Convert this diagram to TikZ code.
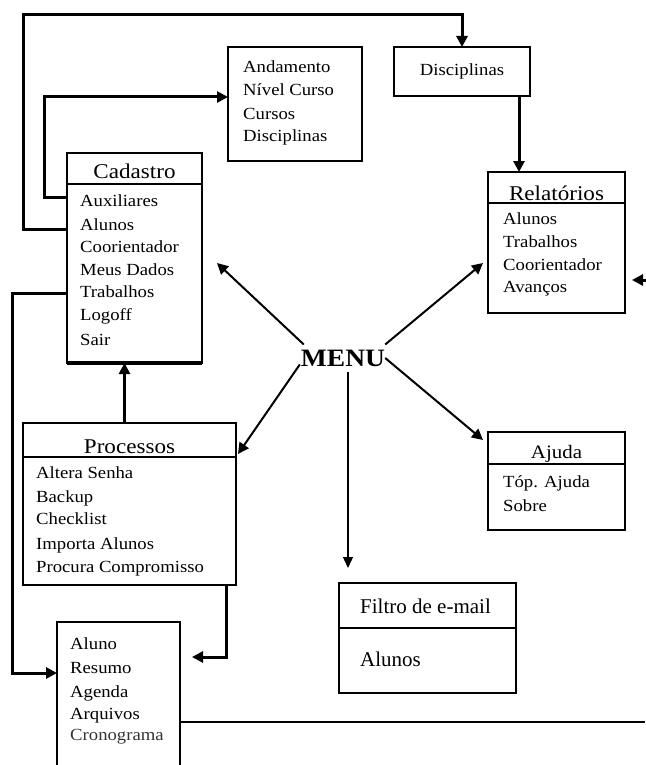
\documentclass[tikz,border=0pt]{standalone}
\usepackage{fontspec}
\setmainfont[FakeStretch=1.1]{Liberation Serif}
\newfontfamily\tnr{Liberation Serif}
\usetikzlibrary{arrows.meta,calc}
\begin{document}
\begin{tikzpicture}[x=1pt,y=-1pt,
  box/.style={draw,line width=2pt,rectangle,inner sep=0pt,outer sep=0pt,anchor=north west},
  item/.style={anchor=base west,inner sep=0pt,font=\fontsize{17}{17}\selectfont},
  ttl/.style={anchor=base,inner sep=0pt,font=\fontsize{21}{21}\selectfont},
  conn/.style={line width=3pt,-{Triangle[length=11pt,width=11pt]}},
  marr/.style={line width=2pt,-{Triangle[length=11pt,width=11pt]}},
  thinarr/.style={line width=1.3pt,-{Triangle[length=11pt,width=10pt]}},
  hdr/.style={line width=2pt}
]
\useasboundingbox (0,0) rectangle (645,765);

% boxes
\node[box,minimum width=134pt,minimum height=114pt] (andam) at (228,47) {};
\node[box,minimum width=136pt,minimum height=49pt] (disc) at (394,47) {};
\node[box,minimum width=137pt,minimum height=141pt] (rel) at (488,172) {};
\node[box,minimum width=135pt,minimum height=210pt] (cad) at (67,153) {};
\node[box,minimum width=213pt,minimum height=162pt] (proc) at (23,423) {};
\node[box,minimum width=137pt,minimum height=98pt] (ajuda) at (488,432) {};
\node[box,line width=1.2pt,minimum width=177pt,minimum height=110pt] (filtro) at (339,583) {};
\node[box,draw=none,minimum width=123pt,minimum height=143pt] (aluno) at (57,622) {};
\draw[line width=1.5pt] (aluno.south west) -- (aluno.north west) -- (aluno.north east) -- (aluno.south east);

% header lines
\draw[hdr] ($(cad.north west)+(0,31)$) -- ($(cad.north east)+(0,31)$);
\draw[line width=4pt] (cad.south west) -- (cad.south east);
\draw[hdr] ($(rel.north west)+(0,31)$) -- ($(rel.north east)+(0,31)$);
\draw[hdr] ($(proc.north west)+(0,34)$) -- ($(proc.north east)+(0,34)$);
\draw[hdr] ($(ajuda.north west)+(0,32)$) -- ($(ajuda.north east)+(0,32)$);
\draw[line width=1.2pt] ($(filtro.north west)+(0,45)$) -- ($(filtro.north east)+(0,45)$);

% texts
\node[item] at (243,73) {Andamento};
\node[item] at (243,96) {Nível Curso};
\node[item] at (243,120) {Cursos};
\node[item] at (243,142) {Disciplinas};

\node[item,anchor=base] at (462,76) {Disciplinas};

\node[ttl] at (556.5,200) {Relatórios};
\node[item] at (503,224) {Alunos};
\node[item] at (503,247) {Trabalhos};
\node[item] at (503,270) {Coorientador};
\node[item] at (503,292) {Avanços};

\node[ttl] at (134.5,178) {Cadastro};
\node[item] at (80,206) {Auxiliares};
\node[item] at (80,230) {Alunos};
\node[item] at (80,252) {Coorientador};
\node[item] at (80,275) {Meus Dados};
\node[item] at (80,297) {Trabalhos};
\node[item] at (80,320) {Logoff};
\node[item] at (80,345) {Sair};

\node[ttl] at (129.5,453) {Processos};
\node[item] at (36,478) {Altera Senha};
\node[item] at (36,502) {Backup};
\node[item] at (36,524) {Checklist};
\node[item] at (36,549) {Importa Alunos};
\node[item] at (36,572) {Procura Compromisso};

\node[ttl,font=\fontsize{19}{19}\selectfont] at (556.5,458) {\underline{Ajuda}};
\node[item] at (503,487) {Tóp. Ajuda};
\node[item] at (503,511) {Sobre};

\node[item] at (70,649) {Aluno};
\node[item] at (70,673) {Resumo};
\node[item] at (70,697) {Agenda};
\node[item] at (70,719) {Arquivos};
\node[item,text=black!80] at (70,740) {Cronograma};

\node[anchor=base west,inner sep=0pt,font=\tnr\fontsize{21}{21}\selectfont] at (360,613) {Filtro de e-mail};
\node[anchor=base west,inner sep=0pt,font=\tnr\fontsize{21}{21}\selectfont] at (360,666) {Alunos};

\node[inner sep=2pt,font=\fontsize{25}{25}\selectfont\bfseries] (menu) at (343,358) {MENU};

% coordinates
\coordinate (tl) at (23,15);
\coordinate (c2) at (44,97);
\coordinate (c3) at (12,673);
\coordinate (re) at (650,280);
\coordinate (rend) at (645,722);

% connectors
\draw[conn] ($(cad.north west)+(0,76)$) -| (tl) -| (disc.north);
\draw[conn] ($(cad.north west)+(0,44)$) -| (c2) -- (andam.west |- c2);
\draw[conn] ($(disc.south)+(57,0)$) coordinate (d1) -- (d1 |- rel.north);
\coordinate (p1) at ($(cad.south)+(-10,0)$);
\draw[conn] (p1 |- proc.north) -- (p1);
\draw[conn] ($(cad.north west)+(0,140)$) -| (c3) -- (aluno.west |- c3);
\draw[conn] ($(proc.south east)+(-10,0)$) |- ($(aluno.north east)+(12,35)$);
\draw[line width=2pt] ($(aluno.north east)+(0,100)$) -- (rend);
\draw[conn] (re) -- ($(rel.east |- re)+(7,0)$);

\draw[marr] ($(menu.north west)+(5,-3)$) -- ($(cad.east)+(15,5)$);
\draw[marr] ($(menu.north east)+(-2,-3)$) -- ($(rel.west)+(-5,20.5)$);
\draw[marr] ($(menu.south west)+(1,-4)$) -- ($(proc.north east)+(2,31)$);
\draw[marr] ($(menu.east)+(-2,0)$) -- ($(ajuda.north west)+(-5,8)$);
\draw[thinarr] ($(menu.south)+(5,3)$) coordinate (m1) -- ($(m1 |- filtro.north)+(0,-15)$);
\end{tikzpicture}
\end{document}
